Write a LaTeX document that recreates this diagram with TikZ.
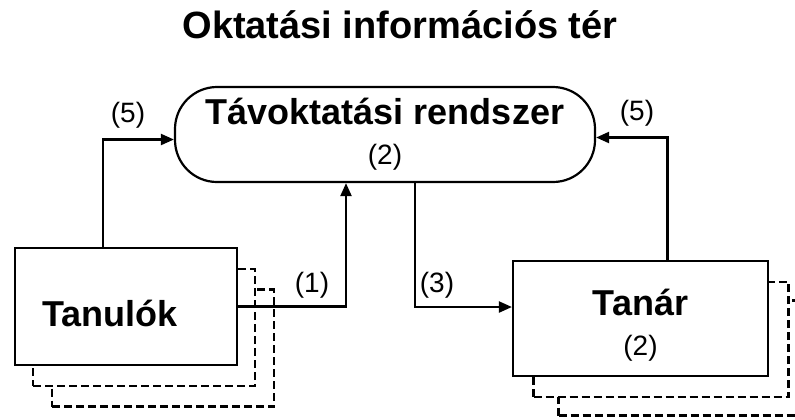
\documentclass[tikz,border=0pt]{standalone}
\usepackage{fontspec}
\setmainfont{Liberation Sans}
\usetikzlibrary{arrows.meta}

\newcommand\boxfont{\fontsize{18}{21}\selectfont\bfseries}
\newcommand\labfont{\fontsize{14}{16}\selectfont}

\begin{document}
\begin{tikzpicture}[x=0.5pt,y=-0.5pt,>={Triangle[length=6.5pt,width=5.5pt]},
    line width=1.1pt,
    block/.style={draw,fill=white,minimum width=#1,inner sep=0pt},
    copybox/.style={draw,fill=white,dash pattern=on 4pt off 2pt,inner sep=0pt},
    lab/.style={font=\labfont}]
  \useasboundingbox (0,0) rectangle (795,419);

  % Titel
  \node[font=\fontsize{19}{22}\selectfont\bfseries,anchor=base] (title) at (400,38) {Oktatási információs tér};

  % Rendszer
  \node[block=210pt,minimum height=47.5pt,rounded corners=21pt,align=center] (rendszer) at (385,134.5)
    {\rule{0pt}{4pt}{\boxfont Távoktatási rendszer}\\[8pt]{\labfont (2)}};

  % Tanulók (mit Kopien)
  \node[copybox,minimum width=111pt,minimum height=58.5pt] (tanulok2) at (163,348) {};
  \node[copybox,minimum width=111pt,minimum height=58.5pt] (tanulok1) at (144,327.5) {};
  \node[block=111pt,minimum height=58.5pt,
    label={[name=tanuloktext,font=\boxfont,xshift=-8pt,yshift=-3.5pt]center:Tanulók}] (tanulok) at (126,306.5) {};

  % Tanár (mit Kopien)
  \node[copybox,minimum width=127.5pt,minimum height=57.5pt] (tanar2) at (686,358) {};
  \node[copybox,minimum width=127.5pt,minimum height=57.5pt] (tanar1) at (661,339.5) {};
  \node[block=127.5pt,minimum height=57.5pt,align=center] (tanar) at (640.5,318.5)
    {\rule{0pt}{20pt}{\boxfont Tanár}\\[8pt]{\labfont (2)}};

  % Pfeile
  \draw[->] ([xshift=-11.5pt]tanulok.north) |- ([yshift=-2.5pt]rendszer.west);
  \draw[->] ([xshift=13.5pt]tanar.north) |- ([yshift=-1.5pt]rendszer.east);
  \draw[->] (tanulok.east) -| ([xshift=-19.5pt]rendszer.south);
  \draw[->] ([xshift=15pt]rendszer.south) |- ([yshift=5.75pt]tanar.west);

  \node[lab] (l5a) at (128,115) {(5)};
  \node[lab] (l5b) at (637,113) {(5)};
  \node[lab] (l1) at (312,285) {(1)};
  \node[lab] (l3) at (437,285) {(3)};
\end{tikzpicture}
\end{document}
